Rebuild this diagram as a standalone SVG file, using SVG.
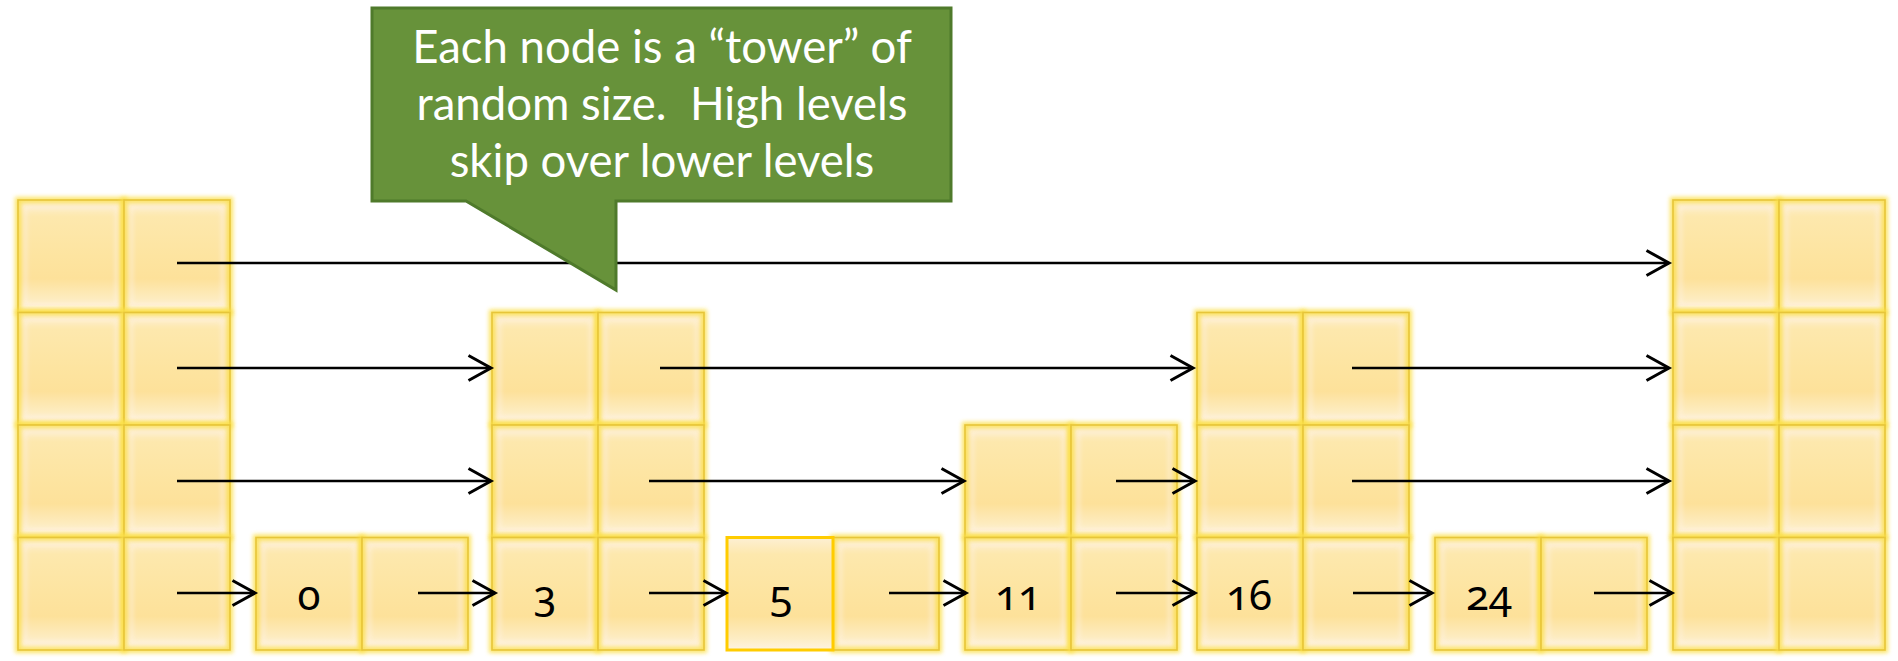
<svg xmlns="http://www.w3.org/2000/svg" xmlns:xlink="http://www.w3.org/1999/xlink" width="1898" height="661" viewBox="0 0 1898 661">
<defs>
<linearGradient id="cellFill" x1="0" y1="0" x2="0" y2="1">
<stop offset="0" stop-color="#fdf0d4"/>
<stop offset="0.15" stop-color="#fde8ad"/>
<stop offset="0.5" stop-color="#fde4a0"/>
<stop offset="0.7" stop-color="#fde19a"/>
<stop offset="0.9" stop-color="#fdedc4"/>
<stop offset="1" stop-color="#fef4e2"/>
</linearGradient>
<filter id="soft" x="-15%" y="-15%" width="130%" height="130%">
<feGaussianBlur stdDeviation="2"/>
</filter>
<symbol id="cell" overflow="visible">
<rect x="0" y="0" width="106" height="112.5" class="cellfill"/>
<rect x="7" y="7" width="92" height="98.5" class="cellin"/>
<rect x="0" y="0" width="106" height="112.5" class="cellglow"/>
<rect x="0" y="0" width="106" height="112.5" class="cellline"/>
</symbol>
<marker id="arr" markerUnits="userSpaceOnUse" markerWidth="30" markerHeight="30" viewBox="-20 -12 24 24" refX="0" refY="0" orient="auto" overflow="visible">
<path d="M-18,-10 L0,0 L-18,10" fill="none" stroke="#000" stroke-width="2.4"/>
</marker>
<style>
.cellfill{fill:url(#cellFill);stroke:none}
.cellin{fill:none;stroke:#fff2e4;stroke-width:5;opacity:0.45;filter:url(#soft)}
.cellglow{fill:none;stroke:#fbe048;stroke-width:6;opacity:0.85;filter:url(#soft)}
.cellline{fill:none;stroke:#e6c53a;stroke-width:1.6}
.crisp{fill:url(#cellFill);stroke:#ffcc00;stroke-width:3}
.lbl{font-family:"Noto Sans","DejaVu Sans",sans-serif;font-size:42px;fill:#000;text-anchor:middle;font-variant-numeric:oldstyle-nums}
.conn line{stroke:#000;stroke-width:2.4;marker-end:url(#arr)}
.call{fill:#67923a;stroke:#4f7a2b;stroke-width:3}
.ctext{font-family:Lato,"Liberation Sans",sans-serif;font-size:45.5px;fill:#fff;text-anchor:middle;white-space:pre}
</style>
</defs>
<rect width="1898" height="661" fill="#fff"/>

<g id="node-head">
<use href="#cell" x="18" y="200"/><use href="#cell" x="124" y="200"/>
<use href="#cell" x="18" y="312.5"/><use href="#cell" x="124" y="312.5"/>
<use href="#cell" x="18" y="425"/><use href="#cell" x="124" y="425"/>
<use href="#cell" x="18" y="537.5"/><use href="#cell" x="124" y="537.5"/>
</g>
<g id="node-0">
<use href="#cell" x="256" y="537.5"/><use href="#cell" x="362" y="537.5"/>
<text class="lbl" x="309" y="610">0</text>
</g>
<g id="node-3">
<use href="#cell" x="492" y="312.5"/><use href="#cell" x="598" y="312.5"/>
<use href="#cell" x="492" y="425"/><use href="#cell" x="598" y="425"/>
<use href="#cell" x="492" y="537.5"/><use href="#cell" x="598" y="537.5"/>
<text class="lbl" x="545" y="610">3</text>
</g>
<g id="node-5">
<use href="#cell" x="833" y="537.5"/>
<rect class="crisp" x="727" y="537.5" width="106" height="112.5"/>
<text class="lbl" x="781" y="610">5</text>
</g>
<g id="node-11">
<use href="#cell" x="965" y="425"/><use href="#cell" x="1071" y="425"/>
<use href="#cell" x="965" y="537.5"/><use href="#cell" x="1071" y="537.5"/>
<text class="lbl" x="1018" y="610">11</text>
</g>
<g id="node-16">
<use href="#cell" x="1197" y="312.5"/><use href="#cell" x="1303" y="312.5"/>
<use href="#cell" x="1197" y="425"/><use href="#cell" x="1303" y="425"/>
<use href="#cell" x="1197" y="537.5"/><use href="#cell" x="1303" y="537.5"/>
<text class="lbl" x="1249" y="610">16</text>
</g>
<g id="node-24">
<use href="#cell" x="1435" y="537.5"/><use href="#cell" x="1541" y="537.5"/>
<text class="lbl" x="1489" y="610">24</text>
</g>
<g id="node-tail">
<use href="#cell" x="1673" y="200"/><use href="#cell" x="1779" y="200"/>
<use href="#cell" x="1673" y="312.5"/><use href="#cell" x="1779" y="312.5"/>
<use href="#cell" x="1673" y="425"/><use href="#cell" x="1779" y="425"/>
<use href="#cell" x="1673" y="537.5"/><use href="#cell" x="1779" y="537.5"/>
</g>

<g id="connectors" class="conn">
<line x1="177" y1="263" x2="1669" y2="263"/>
<line x1="177" y1="368" x2="491" y2="368"/>
<line x1="660" y1="368" x2="1193" y2="368"/>
<line x1="1352" y1="368" x2="1669" y2="368"/>
<line x1="177" y1="481" x2="491" y2="481"/>
<line x1="649" y1="481" x2="964" y2="481"/>
<line x1="1116" y1="481" x2="1195" y2="481"/>
<line x1="1352" y1="481" x2="1669" y2="481"/>
<line x1="177" y1="593" x2="255" y2="593"/>
<line x1="418" y1="593" x2="495" y2="593"/>
<line x1="649" y1="593" x2="726" y2="593"/>
<line x1="889" y1="593" x2="966" y2="593"/>
<line x1="1116" y1="593" x2="1195" y2="593"/>
<line x1="1353" y1="593" x2="1432" y2="593"/>
<line x1="1594" y1="593" x2="1672" y2="593"/>
</g>

<g id="callout">
<path class="call" d="M372,8 H951 V201 H616 V290 L466,201 H372 Z"/>
<text class="ctext" x="662" y="63">Each node is a “tower” of</text>
<text class="ctext" x="662" y="120" xml:space="preserve">random size.  High levels</text>
<text class="ctext" x="662" y="177">skip over lower levels</text>
</g>
</svg>
